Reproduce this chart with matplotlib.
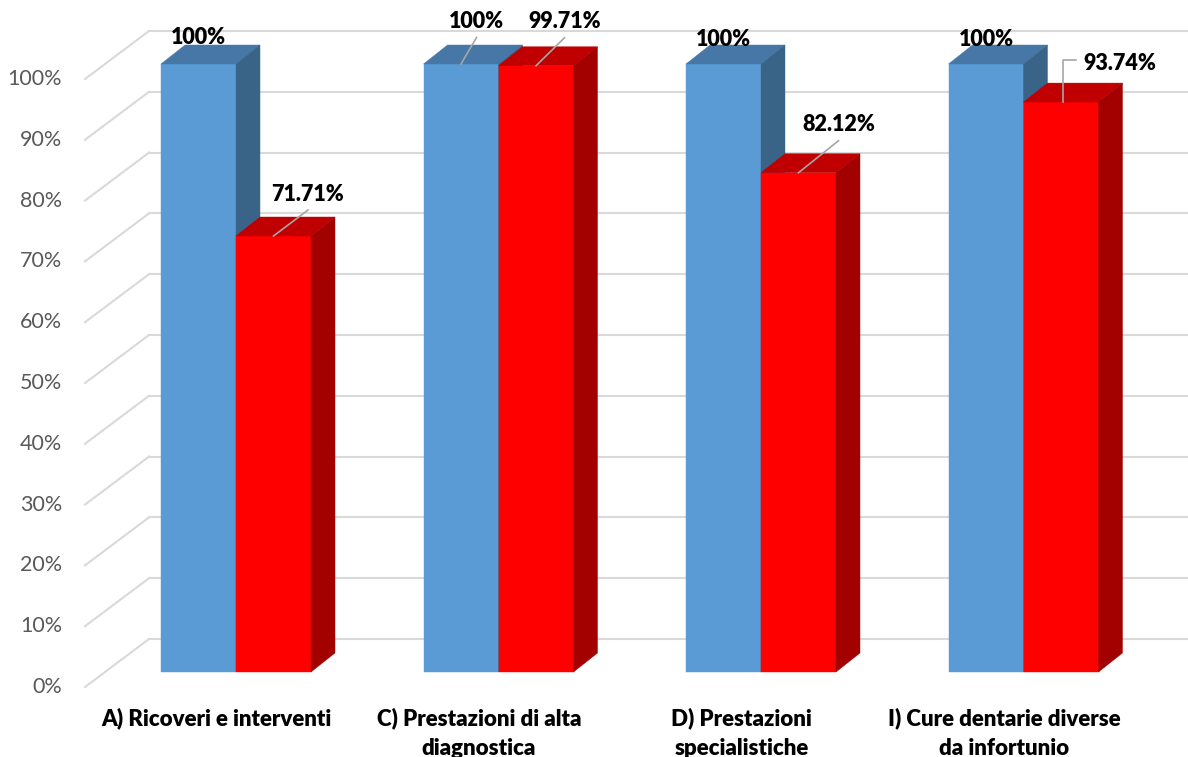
import matplotlib.pyplot as plt
from matplotlib.patches import Polygon

plt.rcParams["font.family"] = ["Lato", "DejaVu Sans"]

categories = [
    "A) Ricoveri e interventi",
    "C) Prestazioni di alta\ndiagnostica",
    "D) Prestazioni\nspecialistiche",
    "I) Cure dentarie diverse\nda infortunio",
]
blue_values = [100, 100, 100, 100]
red_values = [71.71, 99.71, 82.12, 93.74]
blue_labels = ["100%", "100%", "100%", "100%"]
red_labels = ["71.71%", "99.71%", "82.12%", "93.74%"]
y_ticks = list(range(0, 101, 10))

# layout, in pixels of the 1188x757 picture
W, H = 1188, 757
PX_X = 262.5  # pixels per category
PX_Y = 6.08  # pixels per percent
X0_PX, Y0_PX = 236, 672  # category 0 centre / 0% on the bars' front plane

# label offsets (pixels, +y down) from the front-top centre of each bar
blue_off = [(0, -26), (15.5, -42.5), (0, -25), (0, -25)]
red_off = [(34.5, -42), (28.5, -44), (40, -48), (58.5, -39)]
blue_leader = [False, True, False, False]
red_leader = ["line", "line", "line", "elbow"]

BLUE = ("#5B9BD5", "#4777A7", "#3A6388")
RED = ("#FF0000", "#C00000", "#A30000")


def dx(px):
    return px / PX_X


def dy(px):
    return -px / PX_Y


fig = plt.figure(figsize=(W / 100, H / 100), dpi=100)
ax = fig.add_axes([0, 0, 1, 1])
ax.set_xlim(-X0_PX / PX_X, (W - X0_PX) / PX_X)
ax.set_ylim((Y0_PX - H) / PX_Y, Y0_PX / PX_Y)
ax.axis("off")

bw = dx(75)
depth_x, depth_y = dx(24), dy(-19)
wall_x, wall_y = dx(44), dy(-33)
front_x, front_y = dx(-20), dy(15)
left_back = dx(149 - X0_PX)
left_front = left_back - wall_x + front_x
grid_col = "#D9D9D9"

for t in y_ticks:
    ax.plot([left_front, left_back], [t + front_y, t + wall_y], color=grid_col, lw=1.5, zorder=1)
    ax.plot([left_back, ax.get_xlim()[1]], [t + wall_y, t + wall_y], color=grid_col, lw=1.5, zorder=1)
    ax.text(dx(62 - X0_PX), t + front_y, f"{t}%", ha="right", va="center",
            fontsize=15.5, color="#595959")


def draw_bar(x, v, cols):
    front, top, side = cols
    ax.bar(x, v, width=bw, align="edge", color=front, edgecolor=front, lw=0.3, zorder=3)
    ax.add_patch(Polygon([(x, v), (x + bw, v), (x + bw + depth_x, v + depth_y), (x + depth_x, v + depth_y)],
                         closed=True, facecolor=top, edgecolor=top, lw=0.3, zorder=3))
    ax.add_patch(Polygon([(x + bw, 0), (x + bw + depth_x, depth_y), (x + bw + depth_x, v + depth_y), (x + bw, v)],
                         closed=True, facecolor=side, edgecolor=side, lw=0.3, zorder=3))


def draw_label(cx, v, text, off, leader):
    lx, ly = cx + dx(off[0]), v + dy(off[1])
    ax.text(lx, ly, text, ha="center", va="center", fontsize=15.5, fontweight="heavy", color="black", zorder=5)
    if leader == "line" or leader is True:
        ax.plot([lx, cx], [ly + dy(16), v], color="#A6A6A6", lw=1.2, zorder=4)
    elif leader == "elbow":
        ex = cx + dx(1.5)
        ax.plot([lx - dx(44), ex, ex], [ly + dy(-3), ly + dy(-3), v], color="#A6A6A6", lw=1.2, zorder=4)


for i in range(len(categories)):
    draw_bar(i - bw, blue_values[i], BLUE)
    draw_bar(i, red_values[i], RED)
    draw_label(i - bw / 2, blue_values[i], blue_labels[i], blue_off[i], blue_leader[i])
    draw_label(i + bw / 2, red_values[i], red_labels[i], red_off[i], red_leader[i])
    ax.text(i + dx(-19.5), dy(707 - Y0_PX), categories[i], ha="center", va="top",
            fontsize=16, fontweight="heavy", color="black", linespacing=1.55)

fig.savefig("out.png", dpi=100)
